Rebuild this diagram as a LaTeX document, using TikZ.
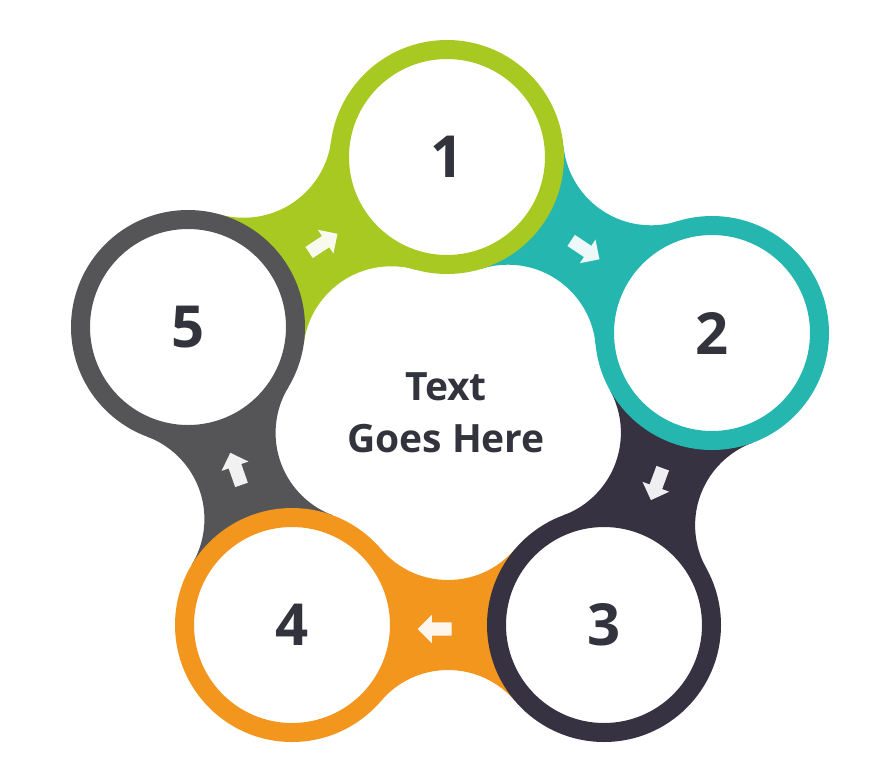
\documentclass[tikz,border=0pt]{standalone}
\usepackage{fontspec}
\setmainfont{Open Sans}
\usetikzlibrary{calc,shapes.arrows}
\definecolor{cgreen}{HTML}{A8C822}
\definecolor{cteal}{HTML}{26B6B0}
\definecolor{cdark}{HTML}{373242}
\definecolor{corange}{HTML}{F3961E}
\definecolor{cgray}{HTML}{555558}
\definecolor{ctext}{HTML}{33333D}
\newcommand\mybridge[5]{%
  \coordinate (#5m) at ($(#1)!0.5!(#2)$);
  \coordinate (#5p) at ($(#5m)!#3!90:(#2)$);
  \coordinate (#5q) at ($(#5m)!#3!-90:(#2)$);
  \begin{scope}
    \clip (#1) -- (#5p) -- (#2) -- (#5q) -- cycle;
    \fill[#4, even odd rule] (-50,-50) rectangle (930,806)
      (#5p) circle[radius=88pt] (#5q) circle[radius=88pt];
  \end{scope}}
\begin{document}
\begin{tikzpicture}[x=1pt,y=-1pt,
  ringnode/.style={circle, draw=#1, line width=19pt, fill=white,
    minimum size=215pt, inner sep=0pt, text=ctext,
    font=\fontsize{58}{60}\selectfont\bfseries},
  arrowshape/.style={single arrow, fill=white, fill opacity=0.92,
    inner xsep=0pt, inner ysep=6.5pt, minimum height=34pt,
    single arrow head extend=7.5pt, single arrow tip angle=90,
    outer sep=0pt},
  centertext/.style={text=ctext, anchor=base,
    font=\fontsize{39}{44}\selectfont\bfseries}]
\fill[white] (0,0) rectangle (880,756);
\useasboundingbox (0,0) rectangle (880,756);
\coordinate (c1) at (447,157);
\coordinate (c2) at (712,333);
\coordinate (c3) at (604,625);
\coordinate (c4) at (292,625);
\coordinate (c5) at (188,327);
% bridges
\mybridge{c5}{c1}{134.3pt}{cgreen}{b51}
\mybridge{c1}{c2}{129.3pt}{cteal}{b12}
\mybridge{c2}{c3}{133.4pt}{cdark}{b23}
\mybridge{c3}{c4}{133pt}{corange}{b34}
\mybridge{c4}{c5}{130.9pt}{cgray}{b45}
% rings
\node[ringnode=cgreen] (n1) at (c1) {1};
\node[ringnode=cteal] (n2) at (c2) {2};
\node[ringnode=cdark] (n3) at (c3) {3};
\node[ringnode=corange] (n4) at (c4) {4};
\node[ringnode=cgray] (n5) at (c5) {5};
% arrows
\node[arrowshape, rotate=33.3] (a51) at ($(b51m)+(3,3)$) {};
\node[arrowshape, rotate=-33.6] (a12) at ($(b12m)+(3,3)$) {};
\node[arrowshape, rotate=-110.3] (a23) at ($(b23m)+(0,2)$) {};
\node[arrowshape, rotate=180] (a34) at ($(b34m)+(-10,4)$) {};
\node[arrowshape, rotate=109.2] (a45) at ($(b45m)+(-3,-4)$) {};
% centre text
\node[centertext] (t1) at (446,400) {Text};
\node[centertext] (t2) at (446,452) {Goes Here};
\end{tikzpicture}
\end{document}
